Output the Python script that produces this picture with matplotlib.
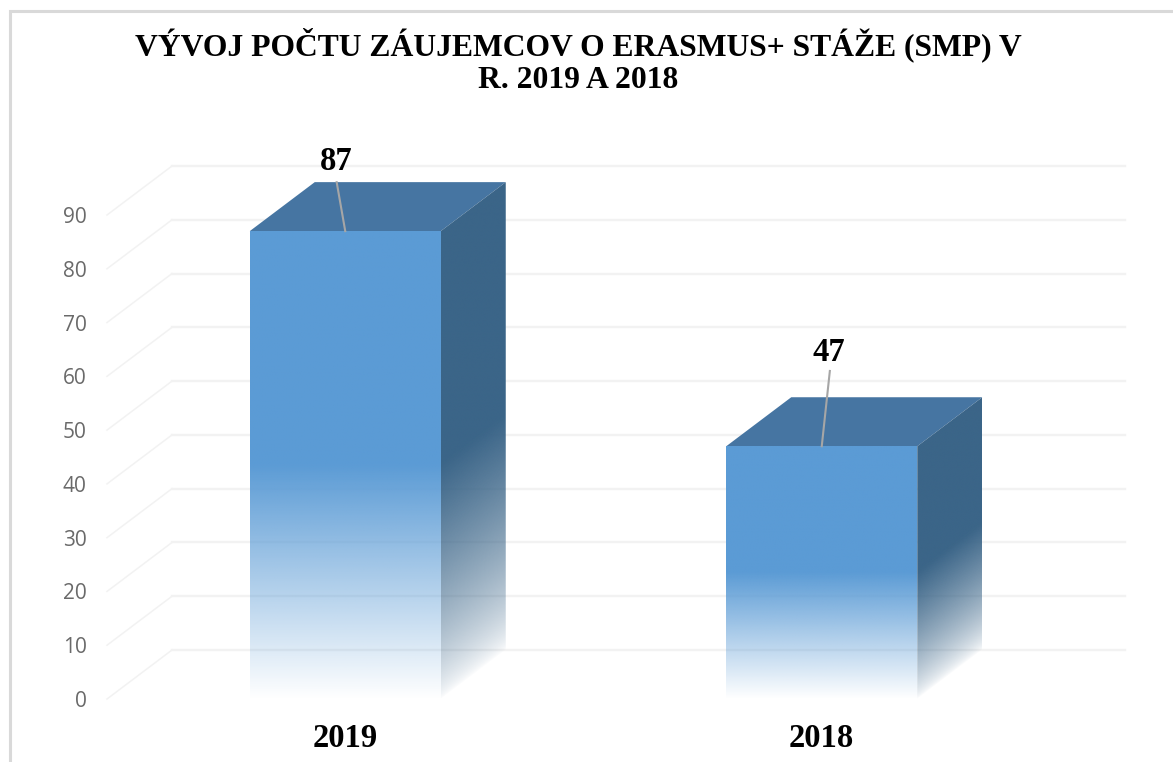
import numpy as np
import matplotlib
matplotlib.use("Agg")
import matplotlib.pyplot as plt
from matplotlib.colors import to_rgb
from matplotlib.lines import Line2D
from matplotlib.patches import Polygon

categories = ["2019", "2018"]
values = [87, 47]
y_ticks = [0, 10, 20, 30, 40, 50, 60, 70, 80, 90]
title = "VÝVOJ POČTU ZÁUJEMCOV O ERASMUS+ STÁŽE (SMP) V\nR. 2019 A 2018"

W, H = 1173, 762
FRONT, TOP, SIDE = "#5B9BD5", "#4675A2", "#3B6588"
GRID = "#F2F2F2"
SERIF = "Liberation Serif"

fig = plt.figure(figsize=(W / 100, H / 100), dpi=100, facecolor="white")
ax = fig.add_axes([107 / W, 1 - 699 / H, (1060 - 107) / W, (699 - 215) / H])
ax.set_xlim(-0.5, 1.5)
ax.set_ylim(0, 90)
for s in ax.spines.values():
    s.set_visible(False)
ax.patch.set_visible(False)

# depth of the 3D projection in data units
dx = 65 / 476.5
dy = 49 / (484 / 90)
bar_w = 191 / 476.5

# back wall grid and side-wall diagonals
for t in y_ticks:
    ax.plot([-0.5 + dx, 1.5 + dx], [t + dy, t + dy], color=GRID, lw=1.7,
            clip_on=False, zorder=1)
    ax.plot([-0.5, -0.5 + dx], [t, t + dy], color=GRID, lw=1.1,
            clip_on=False, zorder=1)

x = np.arange(len(values))
bars = ax.bar(x, values, bar_w, color="none", edgecolor="none", zorder=2)


def rgba(color, alpha):
    r, g, b = to_rgb(color)
    out = np.ones(alpha.shape + (4,))
    out[..., 0], out[..., 1], out[..., 2], out[..., 3] = r, g, b, alpha
    return out


for xi, v, bar in zip(x, values, bars):
    l, r = xi - bar_w / 2, xi + bar_w / 2
    # top face
    ax.add_patch(Polygon([(l, v), (r, v), (r + dx, v + dy), (l + dx, v + dy)],
                         closed=True, fc=TOP, ec="none", zorder=3, clip_on=False))
    # front face: opaque in the upper half, fading out towards the floor
    fy = np.linspace(0, 1, 600)[:, None]
    im = ax.imshow(rgba(FRONT, np.clip(fy * 2, 0, 1)), extent=[l, r, 0, v], origin="lower",
                   aspect="auto", zorder=3, interpolation="bilinear")
    im.set_clip_path(bar)
    # side face: the same fade, sheared along the depth
    side = Polygon([(r, 0), (r + dx, dy), (r + dx, v + dy), (r, v)], closed=True,
                   fc="none", ec="none", zorder=3, clip_on=False)
    ax.add_patch(side)
    sx, sy = np.meshgrid(np.linspace(0, 1, 200), np.linspace(0, v + dy, 800))
    alpha = np.clip((sy - sx * dy) / (0.5 * v), 0, 1) ** 0.7
    im2 = ax.imshow(rgba(SIDE, alpha), extent=[r, r + dx, 0, v + dy], origin="lower",
                    aspect="auto", zorder=3, interpolation="bilinear")
    im2.set_clip_path(side)
    im2.set_clip_box(fig.bbox)

ax.set_xlim(-0.5, 1.5)
ax.set_ylim(0, 90)

# leader lines and data labels
leaders = [(-0.018, 9.1), (0.017, 14.0)]
label_off = [(-0.02, 13.0), (0.015, 17.5)]
for xi, v, le, lo in zip(x, values, leaders, label_off):
    ax.plot([xi + 0.0, xi + le[0]], [v, v + le[1]], color="#A6A6A6", lw=1.5,
            zorder=4, clip_on=False)
    ax.text(xi + lo[0], v + lo[1], str(v), family=SERIF, weight="bold", fontsize=23.5,
            color="black", ha="center", va="center", zorder=5)

ax.set_xticks(x, categories, family=SERIF, weight="bold", fontsize=23.5, color="black")
ax.set_yticks(y_ticks, [str(t) for t in y_ticks], family="Open Sans", fontsize=15,
              color="#6A6A6A")
ax.tick_params(axis="both", length=0)
ax.tick_params(axis="x", pad=17.5)
ax.tick_params(axis="y", pad=14.5)

fig.text(578.5 / W, 1 - 61.5 / H, title, family=SERIF, weight="bold", fontsize=22.8,
         color="black", ha="center", va="center", linespacing=1.16)

# chart frame
fig.add_artist(Line2D([9.8 / W, 9.8 / W, 1], [0, 1 - 11.3 / H, 1 - 11.3 / H],
                      color="#D9D9D9", lw=2.2, solid_joinstyle="miter"))

fig.savefig("out.png", dpi=100)
